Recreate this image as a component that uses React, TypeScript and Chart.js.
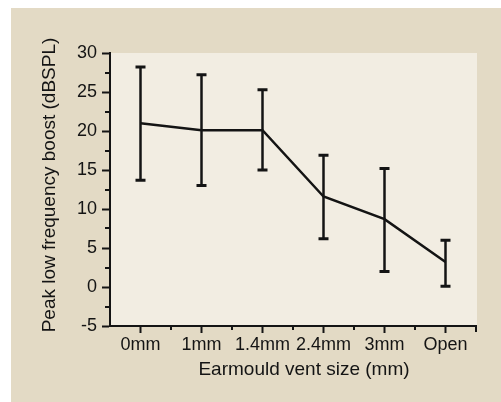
import React, { useEffect, useRef } from "react";
import { Chart, registerables } from "chart.js";

Chart.register(...registerables);

const categories = ["0mm", "1mm", "1.4mm", "2.4mm", "3mm", "Open"];
const meanBoost = [21.0, 20.1, 20.1, 11.6, 8.7, 3.2];
const upperBoost = [28.2, 27.2, 25.3, 16.9, 15.2, 6.0];
const lowerBoost = [13.7, 13.0, 15.0, 6.2, 2.0, 0.1];
const yMin = -5;
const yMax = 30;
const yStep = 5;
const xTitle = "Earmould vent size (mm)";
const yTitle = "Peak low frequency boost (dBSPL)";

const OUTER_BG = "#e3dac5";
const PLOT_BG = "#f2ede2";
const INK = "#141414";
const FONT = "'Liberation Sans', Arial, Helvetica, sans-serif";

const decor = {
  id: "decor",
  beforeDraw(chart: any) {
    const { ctx, chartArea: a, width, height } = chart;
    ctx.save();
    ctx.fillStyle = "#ffffff";
    ctx.fillRect(0, 0, width, height);
    ctx.fillStyle = OUTER_BG;
    ctx.fillRect(11, 8, width - 11, height - 8);
    ctx.fillStyle = PLOT_BG;
    ctx.fillRect(a.left, a.top, a.right - a.left + 1, a.bottom - a.top);
    ctx.restore();
  },
  afterDatasetsDraw(chart: any) {
    const { ctx } = chart;
    const xs = chart.scales.x;
    const ys = chart.scales.y;
    ctx.save();
    ctx.strokeStyle = INK;
    ctx.lineCap = "butt";
    for (let i = 0; i < categories.length; i++) {
      const x = xs.getPixelForTick(i);
      const yt = ys.getPixelForValue(upperBoost[i]);
      const yb = ys.getPixelForValue(lowerBoost[i]);
      ctx.lineWidth = 2.5;
      ctx.beginPath();
      ctx.moveTo(x, yt);
      ctx.lineTo(x, yb);
      ctx.stroke();
      ctx.lineWidth = 3;
      ctx.beginPath();
      ctx.moveTo(x - 5, yt);
      ctx.lineTo(x + 5, yt);
      ctx.moveTo(x - 5, yb);
      ctx.lineTo(x + 5, yb);
      ctx.stroke();
    }
    ctx.restore();
  },
  afterDraw(chart: any) {
    const { ctx, chartArea: a } = chart;
    const xs = chart.scales.x;
    const ys = chart.scales.y;
    ctx.save();
    ctx.strokeStyle = INK;
    ctx.lineWidth = 2;
    // x axis line reaches one pixel past the plot edge, as in the reference
    ctx.beginPath();
    ctx.moveTo(a.right - 1, a.bottom + 1);
    ctx.lineTo(a.right + 1, a.bottom + 1);
    ctx.stroke();
    // minor y ticks
    for (let v = yMin + yStep / 2; v < yMax; v += yStep) {
      const y = Math.round(ys.getPixelForValue(v));
      ctx.beginPath();
      ctx.moveTo(a.left - 5, y);
      ctx.lineTo(a.left, y);
      ctx.stroke();
    }
    // minor x ticks at category boundaries
    for (let i = 0; i < categories.length; i++) {
      const x0 = xs.getPixelForTick(i);
      const last = i + 1 >= categories.length;
      const x1 = !last ? xs.getPixelForTick(i + 1) : x0 + (x0 - xs.getPixelForTick(i - 1));
      const xm = Math.round((x0 + x1) / 2);
      ctx.beginPath();
      ctx.moveTo(xm, a.bottom);
      ctx.lineTo(xm, a.bottom + (last ? 6 : 4));
      ctx.stroke();
    }
    // axis titles
    ctx.fillStyle = INK;
    ctx.font = `19px ${FONT}`;
    ctx.textAlign = "center";
    ctx.textBaseline = "middle";
    ctx.fillText(xTitle, (a.left + a.right) / 2 + 11, a.bottom + 44);
    ctx.translate(a.left - 60, (a.top + a.bottom) / 2 - 4.5);
    ctx.rotate(-Math.PI / 2);
    ctx.fillText(yTitle, 0, 0);
    ctx.restore();
  },
};

export default function App() {
  const ref = useRef<HTMLCanvasElement | null>(null);
  useEffect(() => {
    if (!ref.current) return;
    const chart = new Chart(ref.current, {
      type: "line",
      data: {
        labels: categories,
        datasets: [
          {
            data: meanBoost,
            borderColor: INK,
            borderWidth: 2.5,
            pointRadius: 0,
            tension: 0,
            fill: false,
          },
        ],
      },
      options: {
        animation: false,
        responsive: false,
        devicePixelRatio: 1,
        layout: { padding: { top: 53, right: 25, left: 0, bottom: 0 } },
        plugins: {
          legend: { display: false },
          tooltip: { enabled: false },
        },
        scales: {
          x: {
            offset: true,
            afterFit: (s: any) => {
              s.height = 76;
            },
            grid: {
              display: true,
              drawOnChartArea: false,
              drawTicks: true,
              tickLength: 7,
              tickColor: INK,
              tickWidth: 2,
            },
            border: { display: true, color: INK, width: 2 },
            ticks: {
              autoSkip: false,
              maxRotation: 0,
              minRotation: 0,
              padding: 1,
              color: INK,
              font: { family: FONT, size: 18 },
            },
          },
          y: {
            min: yMin,
            max: yMax,
            afterFit: (s: any) => {
              s.width = 110;
            },
            grid: {
              display: true,
              drawOnChartArea: false,
              drawTicks: true,
              tickLength: 8,
              tickColor: INK,
              tickWidth: 2,
            },
            border: { display: true, color: INK, width: 2 },
            ticks: {
              stepSize: yStep,
              padding: 5,
              color: INK,
              font: { family: FONT, size: 18 },
            },
          },
        },
      },
      plugins: [decor],
    });
    return () => chart.destroy();
  }, []);
  return (
    <div style={{ position: "absolute", left: 0, top: 0, width: 501, height: 402 }}>
      <canvas ref={ref} width={501} height={402} style={{ display: "block" }} />
    </div>
  );
}
